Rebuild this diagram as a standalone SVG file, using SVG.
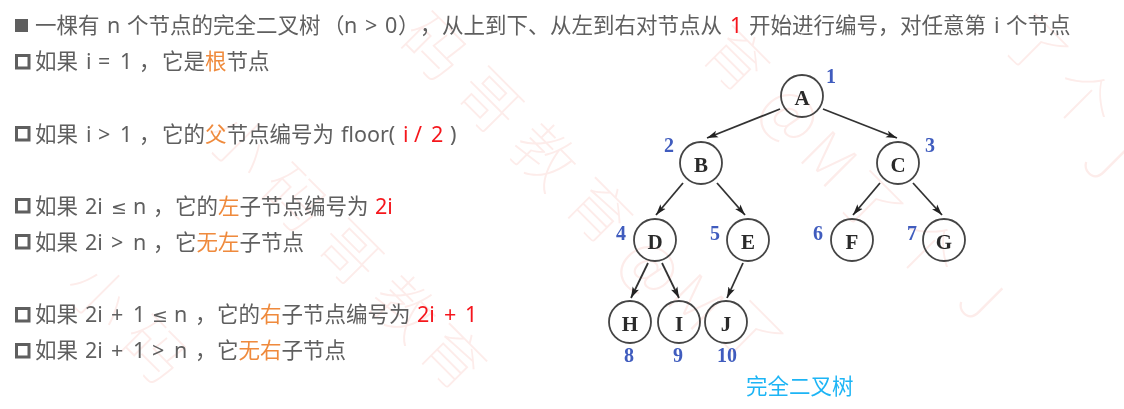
<svg xmlns="http://www.w3.org/2000/svg" width="1124" height="409" viewBox="0 0 1124 409">
<style>
text{font-family:"Noto Sans","Noto Sans CJK SC",sans-serif}
.t{font-size:21.5px;fill:#5f5f5f}
.o{fill:#ef8a3c}
.r{fill:#f5191e}
.m{font-family:"DejaVu Sans",sans-serif;font-size:19px}
.w{font-size:62px;font-weight:100;fill:#fdecea;font-family:"Noto Sans CJK SC",sans-serif;text-anchor:middle}
.n{fill:none;stroke:#444;stroke-width:1.8}
.l{font-family:"Liberation Serif",serif;font-size:21px;font-weight:bold;fill:#2a2a2a;text-anchor:middle}
.b{font-family:"Liberation Serif",serif;font-size:20px;font-weight:bold;fill:#3f5cbe;text-anchor:middle}
.c{stroke:#333;stroke-width:1.8;fill:none;marker-end:url(#a)}
.s{fill:none;stroke:#5f5f5f;stroke-width:3}
</style>
<defs>
<marker id="a" markerUnits="userSpaceOnUse" markerWidth="12" markerHeight="8" refX="11" refY="4" orient="auto"><path d="M0 0.500L11 4L0 7.500L2.500 4Z" fill="#222"/></marker>
<filter id="soft" x="0" y="0" width="100%" height="100%" filterUnits="userSpaceOnUse" primitiveUnits="userSpaceOnUse"><feGaussianBlur stdDeviation="0.45"/></filter>
</defs>
<rect width="1124" height="409" fill="#fff"/>
<g id="watermark">
<text class="w" y="21" transform="translate(1035 48) rotate(45)">了</text>
<text class="w" y="21" transform="translate(1082 100) rotate(45)">个</text>
<text class="w" y="21" transform="translate(1105 160) rotate(45)">J</text>
<text class="w" y="21" transform="translate(735 60) rotate(45)">育</text>
<text class="w" y="21" transform="translate(790 115) rotate(45)">@</text>
<text class="w" y="21" transform="translate(828 160) rotate(45)">M</text>
<text class="w" y="21" transform="translate(870 205) rotate(45)">了</text>
<text class="w" y="21" transform="translate(925 250) rotate(45)">个</text>
<text class="w" y="21" transform="translate(980 300) rotate(45)">J</text>
<text class="w" y="21" transform="translate(433 48) rotate(45)">码</text>
<text class="w" y="21" transform="translate(488 102) rotate(45)">哥</text>
<text class="w" y="21" transform="translate(543 157) rotate(45)">教</text>
<text class="w" y="21" transform="translate(598 212) rotate(45)">育</text>
<text class="w" y="21" transform="translate(650 267) rotate(45)">@</text>
<text class="w" y="21" transform="translate(695 303) rotate(45)">M</text>
<text class="w" y="21" transform="translate(750 335) rotate(45)">了</text>
<text class="w" y="21" transform="translate(238 144) rotate(45)">小</text>
<text class="w" y="21" transform="translate(293 199) rotate(45)">码</text>
<text class="w" y="21" transform="translate(348 254) rotate(45)">哥</text>
<text class="w" y="21" transform="translate(403 309) rotate(45)">教</text>
<text class="w" y="21" transform="translate(452 358) rotate(45)">育</text>
<text class="w" y="21" transform="translate(98 296) rotate(45)">小</text>
<text class="w" y="21" transform="translate(153 351) rotate(45)">码</text>
</g>
<g id="text" filter="url(#soft)">
<rect x="15" y="19" width="13" height="13" fill="#5f5f5f"/>
<text class="t" y="33"><tspan x="35">一棵有</tspan><tspan x="107">n</tspan><tspan x="127">个节点的完全二叉树</tspan><tspan x="323">（</tspan><tspan x="344">n</tspan><tspan x="365">&gt;</tspan><tspan x="385">0</tspan><tspan x="398">）</tspan><tspan x="420">，</tspan><tspan x="442">从上到下、</tspan><tspan x="550">从左到右对节点从</tspan><tspan x="730" class="r">1</tspan><tspan x="749">开始进行编号，</tspan><tspan x="900">对任意第</tspan><tspan x="994">i</tspan><tspan x="1006">个节点</tspan></text>
<rect x="16.500" y="55.500" width="12.500" height="12.500" class="s"/>
<text class="t" y="69"><tspan x="35">如果</tspan><tspan x="86">i</tspan><tspan x="98">=</tspan><tspan x="120">1</tspan><tspan x="139">，</tspan><tspan x="162">它是</tspan><tspan class="o">根</tspan><tspan>节点</tspan></text>
<rect x="16.500" y="127.500" width="12.500" height="12.500" class="s"/>
<text class="t" y="142"><tspan x="35">如果</tspan><tspan x="86">i</tspan><tspan x="98">&gt;</tspan><tspan x="120">1</tspan><tspan x="139">，</tspan><tspan x="162">它的</tspan><tspan class="o">父</tspan><tspan>节点编号为</tspan><tspan x="341">floor(</tspan><tspan x="403" class="r">i</tspan><tspan x="414" class="r">/</tspan><tspan x="431" class="r">2</tspan><tspan x="450">)</tspan></text>
<rect x="16.500" y="199.500" width="12.500" height="12.500" class="s"/>
<text class="t" y="214"><tspan x="35">如果</tspan><tspan x="85">2i</tspan><tspan x="111" class="m">≤</tspan><tspan x="133">n</tspan><tspan x="153">，</tspan><tspan x="175">它的</tspan><tspan class="o">左</tspan><tspan>子节点编号为</tspan><tspan x="375" class="r">2i</tspan></text>
<rect x="16.500" y="235.500" width="12.500" height="12.500" class="s"/>
<text class="t" y="250"><tspan x="35">如果</tspan><tspan x="85">2i</tspan><tspan x="111">&gt;</tspan><tspan x="133">n</tspan><tspan x="153">，</tspan><tspan x="175">它</tspan><tspan class="o">无左</tspan><tspan>子节点</tspan></text>
<rect x="16.500" y="308.500" width="12.500" height="12.500" class="s"/>
<text class="t" y="322"><tspan x="35">如果</tspan><tspan x="85">2i</tspan><tspan x="111">+</tspan><tspan x="133">1</tspan><tspan x="152" class="m">≤</tspan><tspan x="174">n</tspan><tspan x="195">，</tspan><tspan x="217">它的</tspan><tspan class="o">右</tspan><tspan>子节点编号为</tspan><tspan x="417" class="r">2i</tspan><tspan x="444" class="r">+</tspan><tspan x="465" class="r">1</tspan></text>
<rect x="16.500" y="344.500" width="12.500" height="12.500" class="s"/>
<text class="t" y="358"><tspan x="35">如果</tspan><tspan x="85">2i</tspan><tspan x="111">+</tspan><tspan x="133">1</tspan><tspan x="152">&gt;</tspan><tspan x="174">n</tspan><tspan x="195">，</tspan><tspan x="217">它</tspan><tspan class="o">无右</tspan><tspan>子节点</tspan></text>
</g>
<g id="connectors" filter="url(#soft)">
<path class="c" d="M780 109L707 138"/>
<path class="c" d="M823 109L897 138"/>
<path class="c" d="M683 183L656 215"/>
<path class="c" d="M717 183L745 215"/>
<path class="c" d="M880 183L853 215"/>
<path class="c" d="M913 183L942 215"/>
<path class="c" d="M648 263L631 298"/>
<path class="c" d="M662 263L679 298"/>
<path class="c" d="M743 263L727 298"/>
</g>
<g id="A" filter="url(#soft)"><circle class="n" cx="802" cy="96" r="21"/><text class="l" x="802" y="105">A</text><text class="b" x="831" y="83">1</text></g>
<g id="B" filter="url(#soft)"><circle class="n" cx="701" cy="163" r="21"/><text class="l" x="701" y="172">B</text><text class="b" x="669" y="152">2</text></g>
<g id="C" filter="url(#soft)"><circle class="n" cx="898" cy="163" r="21"/><text class="l" x="898" y="172">C</text><text class="b" x="930" y="152">3</text></g>
<g id="D" filter="url(#soft)"><circle class="n" cx="655" cy="240" r="21"/><text class="l" x="655" y="249">D</text><text class="b" x="621" y="240">4</text></g>
<g id="E" filter="url(#soft)"><circle class="n" cx="748" cy="240" r="21"/><text class="l" x="748" y="249">E</text><text class="b" x="715" y="240">5</text></g>
<g id="F" filter="url(#soft)"><circle class="n" cx="852" cy="240" r="21"/><text class="l" x="852" y="249">F</text><text class="b" x="818" y="240">6</text></g>
<g id="G" filter="url(#soft)"><circle class="n" cx="944" cy="240" r="21"/><text class="l" x="944" y="249">G</text><text class="b" x="912" y="240">7</text></g>
<g id="H" filter="url(#soft)"><circle class="n" cx="630" cy="322" r="21"/><text class="l" x="630" y="331">H</text><text class="b" x="629" y="362">8</text></g>
<g id="I" filter="url(#soft)"><circle class="n" cx="679" cy="322" r="21"/><text class="l" x="679" y="331">I</text><text class="b" x="678" y="362">9</text></g>
<g id="J" filter="url(#soft)"><circle class="n" cx="726" cy="322" r="21"/><text class="l" x="726" y="331">J</text><text class="b" x="727" y="362">10</text></g>
<text x="746" y="394" font-size="21.5" fill="#1fb5f5" filter="url(#soft)" style="font-family:'Noto Sans CJK SC',sans-serif">完全二叉树</text>
</svg>
